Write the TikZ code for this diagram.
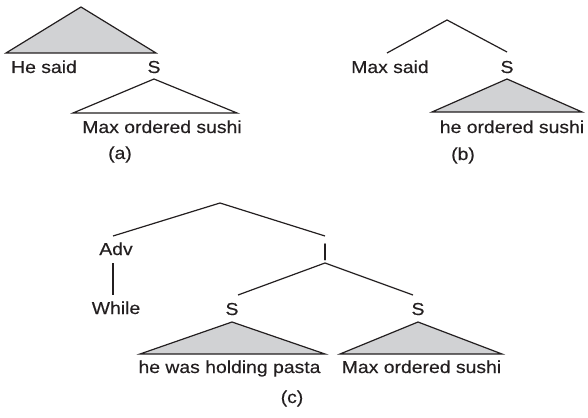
\documentclass[tikz,border=0pt]{standalone}
\usepackage{fontspec}
\setmainfont[FakeStretch=1.12,FakeBold=0.3]{Liberation Sans}
\definecolor{shade}{RGB}{209,210,212}
\definecolor{ink}{RGB}{35,31,32}
\begin{document}
\begin{tikzpicture}[x=1pt,y=-1pt,
  lbl/.style={font=\fontsize{17.3}{20}\selectfont, text=ink, inner sep=0pt, anchor=base},
  edge/.style={draw=ink, line width=1.2pt, line join=miter},
  filled/.style={edge, fill=shade},
  open/.style={edge, fill=white}]
\useasboundingbox (0,0) rectangle (588,417);

% ---- (a) ----
\coordinate (aTop) at (81,7);
\coordinate (aL) at (6,53);
\coordinate (aR) at (156,53);
\coordinate (aS2Top) at (154,79);
\coordinate (aS2L) at (73,113);
\coordinate (aS2R) at (237,113);
\path[filled] (aTop) -- (aL) -- (aR) -- cycle;
\node[lbl] (aHe) at (44,73) {He said};
\node[lbl] (aS) at (154,73) {S};
\path[open] (aS2Top) -- (aS2L) -- (aS2R) -- cycle;
\node[lbl] (aMax) at (162,133) {Max ordered sushi};
\node[lbl] (aCap) at (120,159) {(a)};

% ---- (b) ----
\coordinate (bTop) at (447,20);
\coordinate (bL) at (387,53);
\coordinate (bR) at (507,52);
\draw[edge] (bL) -- (bTop) -- (bR);
\node[lbl] (bMax) at (390,73) {Max said};
\node[lbl] (bS) at (507,73) {S};
\coordinate (bS2Top) at (507,79);
\coordinate (bS2L) at (432,112);
\coordinate (bS2R) at (582,112);
\path[filled] (bS2Top) -- (bS2L) -- (bS2R) -- cycle;
\node[lbl] (bHe) at (512,133) {he ordered sushi};
\node[lbl] (bCap) at (463,160) {(b)};

% ---- (c) ----
\coordinate (cTop) at (220,203);
\coordinate (cL) at (113,236);
\coordinate (cR) at (325,236);
\draw[edge] (cL) -- (cTop) -- (cR);
\node[lbl] (cAdv) at (116,255) {Adv};
\node[lbl] (cI) at (325,260) {\scalebox{1}[1.38]{I}};
\coordinate (cAdvB) at (113,263);
\coordinate (cWhileT) at (113,295);
\draw[edge] (cAdvB) -- (cWhileT);
\node[lbl] (cWhile) at (116,314) {While};
\coordinate (cItop) at (325,263);
\coordinate (cIL) at (238,295);
\coordinate (cIR) at (413,295);
\draw[edge] (cIL) -- (cItop) -- (cIR);
\node[lbl] (cS1) at (232,315) {S};
\node[lbl] (cS2) at (418,315) {S};
\coordinate (cT1Top) at (232,322);
\coordinate (cT1L) at (140,354);
\coordinate (cT1R) at (325,354);
\path[filled] (cT1Top) -- (cT1L) -- (cT1R) -- cycle;
\coordinate (cT2Top) at (418,322);
\coordinate (cT2L) at (340,354);
\coordinate (cT2R) at (502,354);
\path[filled] (cT2Top) -- (cT2L) -- (cT2R) -- cycle;
\node[lbl] (cHe) at (229.5,373) {he was holding pasta};
\node[lbl] (cMax) at (421.5,373) {Max ordered sushi};
\node[lbl] (cCap) at (292,403) {(c)};
\end{tikzpicture}
\end{document}
